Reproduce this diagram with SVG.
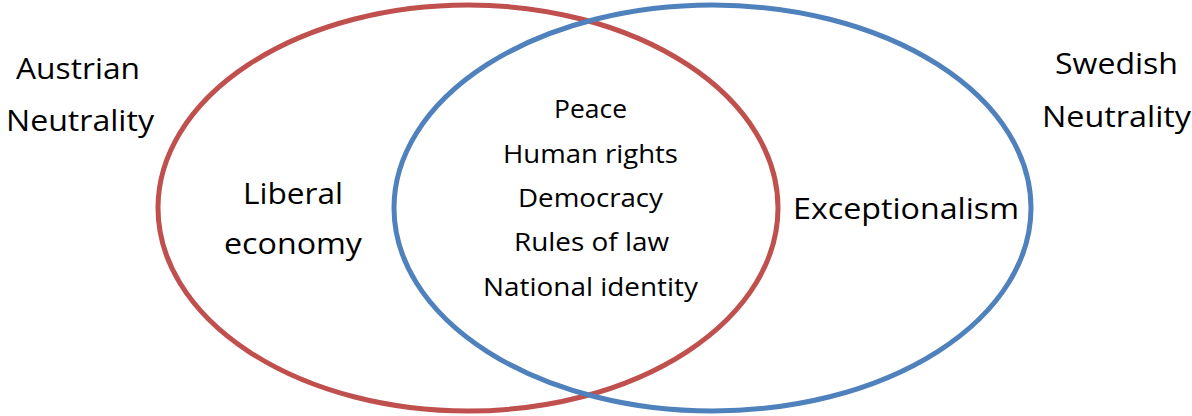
<svg xmlns="http://www.w3.org/2000/svg" width="1192" height="416" viewBox="0 0 1192 416">
  <style>
    .set { fill: none; stroke-width: 5; }
    .austrian { stroke: #C0504D; }
    .swedish { stroke: #4F81BD; }
    text { font-family: "Open Sans", "Liberation Sans", sans-serif; fill: #000; text-anchor: middle; }
    .big { font-size: 29.5px; }
    .small { font-size: 25.6px; }
  </style>
  <rect width="1192" height="416" fill="#fff"/>

  <!-- Austrian neutrality set -->
  <g id="austrian-set">
    <ellipse class="set austrian" cx="468" cy="208" rx="310" ry="203"/>
  </g>

  <!-- Swedish neutrality set -->
  <g id="swedish-set">
    <ellipse class="set swedish" cx="712.5" cy="208" rx="318.5" ry="203"/>
  </g>

  <!-- Set titles -->
  <g id="austrian-title" class="big">
    <text x="78" y="79" textLength="124" lengthAdjust="spacingAndGlyphs">Austrian</text>
    <text x="80" y="131" textLength="148" lengthAdjust="spacingAndGlyphs">Neutrality</text>
  </g>
  <g id="swedish-title" class="big">
    <text x="1116.5" y="74" textLength="123" lengthAdjust="spacingAndGlyphs">Swedish</text>
    <text x="1116.5" y="127" textLength="149" lengthAdjust="spacingAndGlyphs">Neutrality</text>
  </g>

  <!-- Austrian-only region -->
  <g id="liberal-economy" class="big">
    <text x="293" y="204" textLength="100" lengthAdjust="spacingAndGlyphs">Liberal</text>
    <text x="293" y="254" textLength="138" lengthAdjust="spacingAndGlyphs">economy</text>
  </g>

  <!-- Swedish-only region -->
  <g id="exceptionalism" class="big">
    <text x="906" y="219" textLength="226" lengthAdjust="spacingAndGlyphs">Exceptionalism</text>
  </g>

  <!-- Shared values -->
  <g id="shared-values" class="small">
    <text x="590.5" y="117.5" textLength="73" lengthAdjust="spacingAndGlyphs">Peace</text>
    <text x="590.5" y="162.5" textLength="175" lengthAdjust="spacingAndGlyphs">Human rights</text>
    <text x="590.5" y="207" textLength="145" lengthAdjust="spacingAndGlyphs">Democracy</text>
    <text x="591.5" y="251" textLength="155" lengthAdjust="spacingAndGlyphs">Rules of law</text>
    <text x="590.5" y="296" textLength="215" lengthAdjust="spacingAndGlyphs">National identity</text>
  </g>
</svg>
